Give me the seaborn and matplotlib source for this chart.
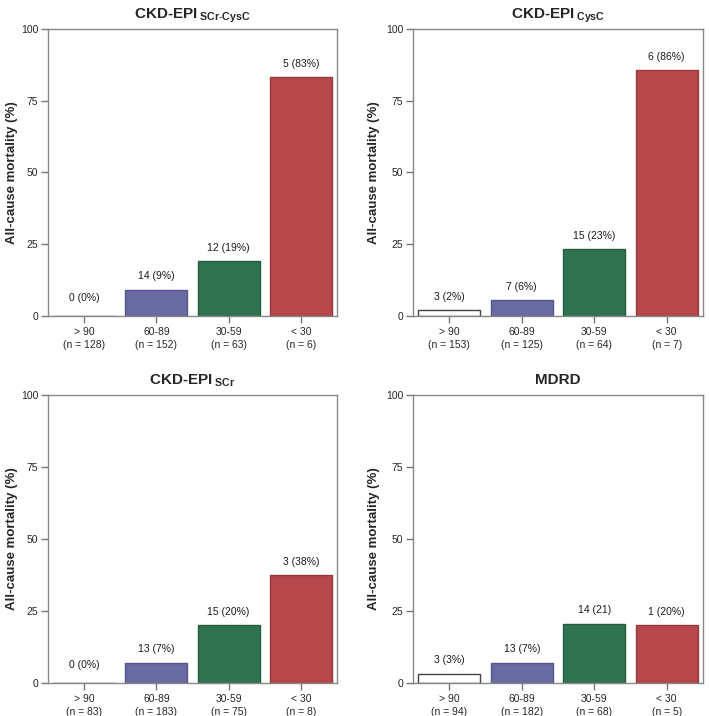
import pandas as pd
import numpy as np
import matplotlib
matplotlib.use('Agg')
import matplotlib.pyplot as plt
import seaborn as sns

# eGFR categories shared by all panels
categories = ['> 90', '60-89', '30-59', '< 30']
bar_colors = ['#FFFFFF', '#6A6BA3', '#2F7351', '#B6474A']
edge_colors = ['#444444', '#55568A', '#255C40', '#923A3C']

# panel titles (mathtext subscripts)
titles = [
    r'CKD-EPI$\,_{\mathbf{SCr\text{-}CysC}}$',
    r'CKD-EPI$\,_{\mathbf{CysC}}$',
    r'CKD-EPI$\,_{\mathbf{SCr}}$',
    'MDRD',
]

# deaths, group sizes and mortality (%) per panel
deaths_1 = [0, 14, 12, 5]
n_1 = [128, 152, 63, 6]
mort_1 = [0.0, 9.2, 19.0, 83.3]
lab_1 = ['0 (0%)', '14 (9%)', '12 (19%)', '5 (83%)']

deaths_2 = [3, 7, 15, 6]
n_2 = [153, 125, 64, 7]
mort_2 = [2.0, 5.6, 23.4, 85.7]
lab_2 = ['3 (2%)', '7 (6%)', '15 (23%)', '6 (86%)']

deaths_3 = [0, 13, 15, 3]
n_3 = [83, 183, 75, 8]
mort_3 = [0.0, 7.1, 20.0, 37.5]
lab_3 = ['0 (0%)', '13 (7%)', '15 (20%)', '3 (38%)']

deaths_4 = [3, 13, 14, 1]
n_4 = [94, 182, 68, 5]
mort_4 = [3.2, 7.1, 20.6, 20.0]
lab_4 = ['3 (3%)', '13 (7%)', '14 (21)', '1 (20%)']

panels = [
    (n_1, mort_1, lab_1),
    (n_2, mort_2, lab_2),
    (n_3, mort_3, lab_3),
    (n_4, mort_4, lab_4),
]

sns.set_theme(style='white')
plt.rcParams['font.family'] = ['Liberation Sans', 'DejaVu Sans']
plt.rcParams['mathtext.fontset'] = 'custom'
plt.rcParams['mathtext.rm'] = 'Liberation Sans'
plt.rcParams['mathtext.bf'] = 'Liberation Sans:bold'

fig = plt.figure(figsize=(7.09, 7.16), dpi=100)
W, H = 709, 716
# axes boxes in pixels: left, top, right, bottom
boxes = [(48, 29, 337, 316), (413, 29, 703, 316),
         (48, 395, 337, 683), (413, 395, 703, 683)]

for i, (box, (ns, mort, labs)) in enumerate(zip(boxes, panels)):
    l, t, r, b = box
    ax = fig.add_axes([l / W, 1 - b / H, (r - l) / W, (b - t) / H])
    df = pd.DataFrame({'cat': categories, 'mort': mort})
    sns.barplot(data=df, x='cat', y='mort', hue='cat', palette=bar_colors,
                order=categories, hue_order=categories, legend=False,
                width=0.86, saturation=1, ax=ax, linewidth=1.0)
    for patch, ec in zip(ax.patches, edge_colors):
        patch.set_edgecolor(ec)
    for j, (v, s) in enumerate(zip(mort, labs)):
        off = 9 if v == 0 else 6
        ax.annotate(s, (j, v), xytext=(0, off), textcoords='offset points',
                    ha='center', va='bottom', fontsize=7.5, color='#1a1a1a')
    ax.set_ylim(0, 100)
    ax.set_xlim(-0.5, 3.5)
    ax.set_yticks([0, 25, 50, 75, 100])
    ax.set_xticks(range(4))
    ax.set_xticklabels([f'{c}\n(n = {n})' for c, n in zip(categories, ns)],
                       fontsize=7.5, linespacing=1.3)
    ax.tick_params(axis='y', left=True, labelsize=7.5, length=5, width=1,
                   color='#777777', pad=2, direction='out')
    ax.tick_params(axis='x', bottom=True, length=5, width=1,
                   color='#777777', pad=3, direction='out')
    for sp in ax.spines.values():
        sp.set_visible(True)
        sp.set_color('#888888')
        sp.set_linewidth(1.0)
    ax.set_xlabel('')
    ax.set_ylabel('All-cause mortality (%)', fontsize=9.5, fontweight='bold',
                  labelpad=2 if i % 2 == 0 else 4)
    ax.set_title(titles[i], fontsize=11, fontweight='bold', pad=8)

fig.savefig('out.png', dpi=100)
